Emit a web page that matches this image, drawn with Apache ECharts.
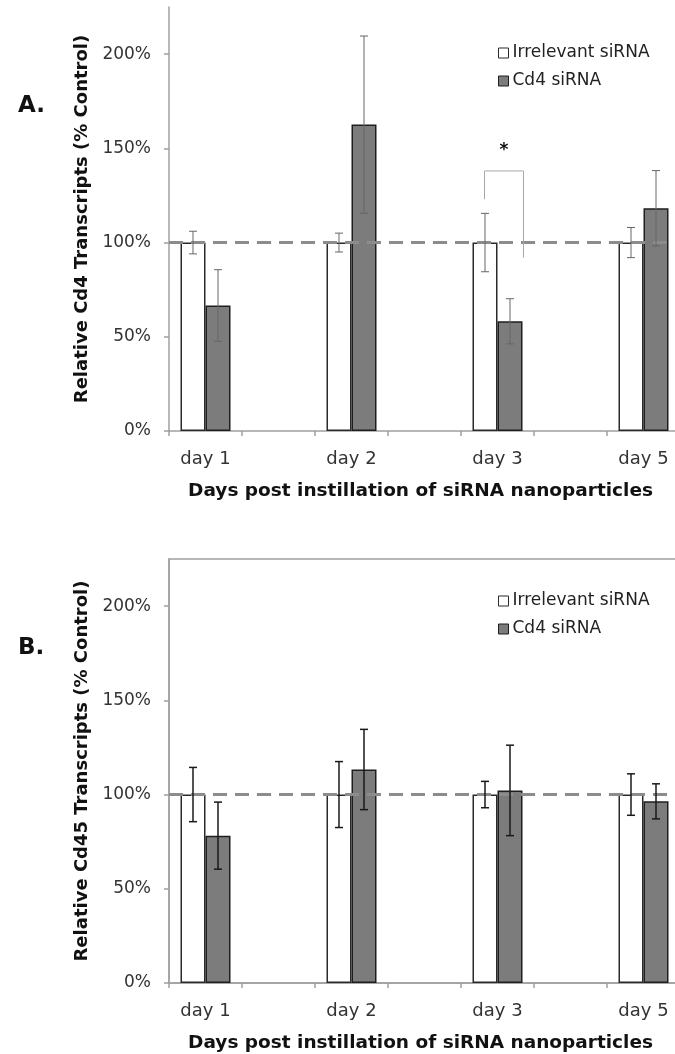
<!DOCTYPE html>
<html>
<head>
<meta charset="utf-8">
<script src="https://cdn.jsdelivr.net/npm/echarts@6/dist/echarts.min.js"></script>
<style>
  html, body { margin: 0; padding: 0; background: #fff; }
  #chart { width: 675px; height: 1054px; }
</style>
</head>
<body>
<div id="chart"></div>
<script>
// days shown on the x axis; a blank slot sits between each pair
const dayLabels = ["day 1", "day 2", "day 3", "day 5"];
const yTicks = [0, 50, 100, 150, 200];

// panel A: Cd4 transcripts (% control) with error bars
const cd4Irrelevant = [100, 100, 100, 100];
const cd4IrrelevantErr = [6, 5, 15.5, 8];
const cd4Sirna = [66.6, 162.6, 58.2, 118.2];
const cd4SirnaErr = [19, 47, 12, 20];

// panel B: Cd45 transcripts (% control) with error bars
const cd45Irrelevant = [100, 100, 100, 100];
const cd45IrrelevantErr = [14.4, 17.5, 7, 11];
const cd45Sirna = [78.2, 113.3, 102.2, 96.4];
const cd45SirnaErr = [17.8, 21.3, 24, 9.3];

// significance bracket on day 3 of panel A: [left leg end, top, right leg end, star]
const sigDay = 2;
const sigBracket = [123, 138, 92, 151];

const FONT = "DejaVu Sans";

// build the 7 slots: day, blank, day, blank ...
const categories = [];
dayLabels.forEach((d, i) => {
  if (i > 0) categories.push("");
  categories.push(d);
});
const slot = i => i * 2;

function barData(values) {
  const out = categories.map(() => null);
  values.forEach((v, i) => { out[slot(i)] = v; });
  return out;
}

function errData(values, errs) {
  return values.map((v, i) => [slot(i), v + errs[i], v - errs[i]]);
}

function errSeries(idx, values, errs, shift, color, width) {
  return {
    type: "custom",
    xAxisIndex: idx,
    yAxisIndex: idx,
    z: 5,
    silent: true,
    data: errData(values, errs),
    encode: { x: 0, y: [1, 2] },
    renderItem: (params, api) => {
      const hi = api.coord([api.value(0), api.value(1)]);
      const lo = api.coord([api.value(0), api.value(2)]);
      const x = hi[0] + shift;
      const style = { stroke: color, lineWidth: width };
      return {
        type: "group",
        children: [
          { type: "line", shape: { x1: x, y1: hi[1], x2: x, y2: lo[1] }, style },
          { type: "line", shape: { x1: x - 4, y1: hi[1], x2: x + 4, y2: hi[1] }, style },
          { type: "line", shape: { x1: x - 4, y1: lo[1], x2: x + 4, y2: lo[1] }, style }
        ]
      };
    }
  };
}

// plot area runs a little past the right edge of the page, as in the source
const grids = [
  { left: 169, width: 511, top: 7, height: 424, outerBoundsMode: "none" },
  {
    left: 169, width: 511, top: 559, height: 424, outerBoundsMode: "none",
    show: true, borderColor: "#a0a0a0", borderWidth: 1.5
  }
];

const yNames = ["Relative Cd4 Transcripts (% Control)", "Relative Cd45 Transcripts (% Control)"];

const xAxes = grids.map((g, i) => ({
  type: "category",
  gridIndex: i,
  data: categories,
  name: "Days post instillation of siRNA nanoparticles",
  nameLocation: "middle",
  nameGap: 51,
  nameTextStyle: { fontFamily: FONT, fontWeight: "bold", fontSize: 18.5, color: "#111", padding: [0, 8, 0, 0] },
  axisLine: { lineStyle: { color: "#a0a0a0", width: 1.5 } },
  axisTick: { show: true, interval: 0, length: 5, lineStyle: { color: "#a0a0a0", width: 1.5 } },
  axisLabel: { interval: 0, margin: 19, fontFamily: FONT, fontSize: 18, color: "#333" }
}));

const yAxes = grids.map((g, i) => ({
  type: "value",
  gridIndex: i,
  min: yTicks[0],
  max: 225,
  interval: yTicks[1] - yTicks[0],
  name: yNames[i],
  nameLocation: "middle",
  nameGap: 70,
  nameTextStyle: { fontFamily: FONT, fontWeight: "bold", fontSize: 18, color: "#111" },
  splitLine: { show: false },
  axisLine: { show: true, lineStyle: { color: "#a0a0a0", width: 1.5 } },
  axisTick: { show: true, customValues: yTicks, length: 5, lineStyle: { color: "#a0a0a0", width: 1.5 } },
  axisLabel: {
    customValues: yTicks,
    margin: 18,
    fontFamily: FONT,
    fontSize: 17,
    color: "#333",
    formatter: "{value}%"
  }
}));

const whiteStyle = { color: "#ffffff", borderColor: "#2a2a2a", borderWidth: 1.5 };
const grayStyle = { color: "#7c7c7c", borderColor: "#1e1e1e", borderWidth: 1.5 };

function panelSeries(idx, irr, irrErr, sir, sirErr, errColor, errWidth) {
  return [
    {
      // dashed 100% reference line, kept behind the bars
      type: "line",
      xAxisIndex: idx,
      yAxisIndex: idx,
      data: [],
      z: 1,
      markLine: {
        silent: true,
        symbol: "none",
        label: { show: false },
        lineStyle: { color: "#8c8c8c", width: 3, type: [14, 8] },
        data: [{ yAxis: 100 }]
      }
    },
    {
      name: "Irrelevant siRNA",
      type: "bar",
      xAxisIndex: idx,
      yAxisIndex: idx,
      barWidth: 25,
      barGap: "0%",
      z: 3,
      itemStyle: whiteStyle,
      data: barData(irr)
    },
    {
      name: "Cd4 siRNA",
      type: "bar",
      xAxisIndex: idx,
      yAxisIndex: idx,
      barWidth: 25,
      barGap: "0%",
      z: 3,
      itemStyle: grayStyle,
      data: barData(sir)
    },
    errSeries(idx, irr, irrErr, -12.5, errColor, errWidth),
    errSeries(idx, sir, sirErr, 12.5, errColor, errWidth)
  ];
}

const series = [].concat(
  panelSeries(0, cd4Irrelevant, cd4IrrelevantErr, cd4Sirna, cd4SirnaErr, "#666", 1),
  panelSeries(1, cd45Irrelevant, cd45IrrelevantErr, cd45Sirna, cd45SirnaErr, "#1a1a1a", 1.5)
);

// bracket + star over day 3 in panel A
series.push({
  type: "custom",
  xAxisIndex: 0,
  yAxisIndex: 0,
  z: 6,
  silent: true,
  data: [[slot(sigDay)].concat(sigBracket)],
  encode: { x: 0, y: [1, 2, 3, 4] },
  renderItem: (params, api) => {
    const c = api.value(0);
    const pL = api.coord([c, api.value(1)]);
    const pT = api.coord([c, api.value(2)]);
    const pR = api.coord([c, api.value(3)]);
    const pS = api.coord([c, api.value(4)]);
    const xl = pL[0] - 13;
    const xr = pL[0] + 26;
    return {
      type: "group",
      children: [
        {
          type: "polyline",
          shape: { points: [[xl, pL[1]], [xl, pT[1]], [xr, pT[1]], [xr, pR[1]]] },
          style: { stroke: "#a8a8a8", lineWidth: 1, fill: null }
        },
        {
          type: "text",
          style: {
            x: pS[0] + 6.5,
            y: pS[1] + 4,
            text: "*",
            fontFamily: FONT,
            fontWeight: "bold",
            fontSize: 17,
            fill: "#111",
            align: "center",
            verticalAlign: "middle"
          }
        }
      ]
    };
  }
});

const legendData = [
  { name: "Irrelevant siRNA", itemStyle: { color: "#ffffff", borderColor: "#2a2a2a", borderWidth: 1 } },
  { name: "Cd4 siRNA", itemStyle: { color: "#7c7c7c", borderColor: "#1e1e1e", borderWidth: 1 } }
];

const legends = [39, 587].map(top => ({
  orient: "vertical",
  left: 493,
  top: top,
  icon: "rect",
  itemWidth: 10,
  itemHeight: 10,
  itemGap: 10,
  selectedMode: false,
  textStyle: { fontFamily: FONT, fontSize: 17, lineHeight: 18, color: "#222", padding: [0, 0, 0, -1] },
  data: legendData
}));

const option = {
  animation: false,
  backgroundColor: "#ffffff",
  grid: grids,
  xAxis: xAxes,
  yAxis: yAxes,
  legend: legends,
  series: series,
  graphic: [
    { type: "text", left: 18, top: 95, style: { text: "A.", fontFamily: FONT, fontWeight: "bold", fontSize: 23, fill: "#111" } },
    { type: "text", left: 18, top: 637, style: { text: "B.", fontFamily: FONT, fontWeight: "bold", fontSize: 23, fill: "#111" } }
  ]
};

const chart = echarts.init(document.getElementById("chart"));
chart.setOption(option);
</script>
</body>
</html>
